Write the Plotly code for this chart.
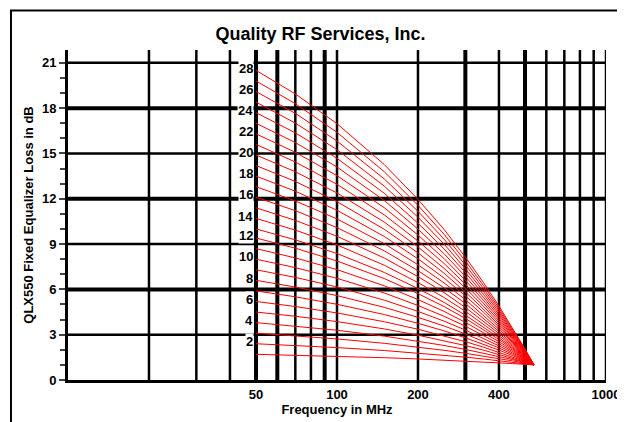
import plotly.graph_objects as go

# equalizer setting number and loss read at 50 MHz
settings = list(range(1, 29))
loss_at_50 = [1.7, 2.4, 3.1, 3.8, 4.5, 5.2, 5.9, 6.6, 7.3, 8.0, 8.7, 9.4, 10.0, 10.7,
              11.4, 12.1, 12.8, 13.5, 14.2, 14.9, 15.6, 16.3, 17.0, 17.7, 18.4, 19.1, 19.8, 20.5]
# frequency points and relative slope shape (1 at 50 MHz, 0 at the end point)
freqs = [50, 70, 100, 150, 200, 250, 300, 350, 400, 450, 500, 540]
shape = [1.0, 0.920, 0.819, 0.680, 0.562, 0.460, 0.366, 0.280, 0.200, 0.125, 0.054, 0.0]
end_loss = 1.0

grid_x = [20, 30, 40, 50, 60, 70, 80, 90, 100, 200, 300, 400, 500, 600, 700, 800, 900, 1000]
thick_x = [50, 60, 90, 300, 500]
grid_y = [3, 6, 9, 12, 15, 18, 21]
thick_y = [6, 12, 18]
x_ticks = [50, 100, 200, 400, 1000]

fig = go.Figure()
shapes = []
for gx in grid_x:
    shapes.append(dict(type="line", xref="x", yref="paper", x0=gx, x1=gx, y0=0, y1=1,
                       line=dict(color="black", width=4 if gx in thick_x else 2.5), layer="below"))
for gy in grid_y:
    shapes.append(dict(type="line", xref="paper", yref="y", x0=0, x1=1, y0=gy, y1=gy,
                       line=dict(color="black", width=4 if gy in thick_y else 2.5), layer="below"))
shapes.append(dict(type="rect", xref="paper", yref="paper", x0=-0.106, x1=1.043, y0=-0.14, y1=1.12,
                   line=dict(color="black", width=2)))

for n, start in zip(settings, loss_at_50):
    ys = [end_loss + (start - end_loss) * s for s in shape]
    fig.add_trace(go.Scatter(x=freqs, y=ys, mode="lines", line=dict(color="red", width=1),
                             hoverinfo="skip", showlegend=False))

annotations = []
for n, start in zip(settings, loss_at_50):
    if n % 2 == 0:
        annotations.append(dict(x=1.693, y=start + 0.15, xref="x", yref="y", text="<b>%d</b>" % n,
                                showarrow=False, xanchor="right", bgcolor="white", borderpad=0,
                                font=dict(size=13, color="black", family="Arial")))

fig.update_layout(
    width=625, height=422, margin=dict(l=60, r=27, t=42, b=50),
    paper_bgcolor="white", plot_bgcolor="white",
    title=dict(text="<b>Quality RF Services, Inc.</b>", x=0.5, xanchor="center", y=0.955,
               font=dict(size=18, family="Arial", color="black")),
    shapes=shapes, annotations=annotations,
    xaxis=dict(type="log", range=[1, 3], tickvals=x_ticks, ticktext=["<b>%d</b>" % v for v in x_ticks],
               showgrid=False, zeroline=False, showline=True, linecolor="black", linewidth=3,
               ticks="", title=dict(text="<b>Frequency in MHz</b>", standoff=4,
                                    font=dict(size=13, family="Arial", color="black")),
               tickfont=dict(size=13, family="Arial", color="black")),
    yaxis=dict(range=[0, 21.85], tickvals=[0] + grid_y, ticktext=["<b>%d</b>" % v for v in [0] + grid_y],
               showgrid=False, zeroline=False,
               showline=True, linecolor="black", linewidth=3, ticks="outside", ticklen=6,
               tickwidth=2, minor=dict(dtick=1, ticks="outside", ticklen=5, tickwidth=2),
               title=dict(text="<b>QLX550 Fixed Equalizer Loss in dB</b>", standoff=6,
                          font=dict(size=13, family="Arial", color="black")),
               tickfont=dict(size=13, family="Arial", color="black")),
)
fig.write_html("out.html")
